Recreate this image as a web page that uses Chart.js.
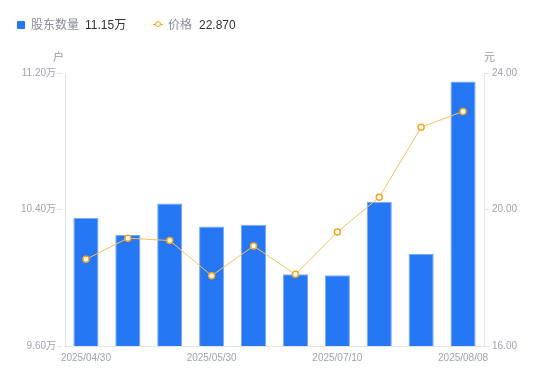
<!DOCTYPE html>
<html>
<head>
<meta charset="utf-8">
<script src="https://cdn.jsdelivr.net/npm/chart.js@4"></script>
<style>
  body { margin: 0; background: #fff; font-family: "Liberation Sans", "Noto Sans CJK SC", sans-serif; }
  #wrap { position: relative; width: 550px; height: 381px; }
  #legend { position: absolute; left: 0; top: 0; width: 550px; height: 50px; font-size: 12px; }
  #legend span { position: absolute; top: 17px; line-height: 16px; white-space: nowrap; }
  .name { color: #8a8c99; }
  .val { color: #333; }
  .unit { position: absolute; font-size: 11px; color: #9a9aa6; line-height: 12px; }
</style>
</head>
<body>
<div id="wrap">
  <canvas id="chart" width="550" height="381"></canvas>
  <div id="legend"></div>
  <div class="unit" style="left:53px; top:51px;">户</div>
  <div class="unit" style="left:484px; top:51px;">元</div>
</div>
<script>
// data
const dates = ['2025/04/30', '2025/05/09', '2025/05/20', '2025/05/30', '2025/06/10',
  '2025/06/20', '2025/07/10', '2025/07/18', '2025/07/31', '2025/08/08'];
const holders = [10.35, 10.25, 10.435, 10.30, 10.31, 10.02, 10.015, 10.445, 10.14, 11.15]; // 万户
const prices = [18.54, 19.16, 19.09, 18.06, 18.93, 18.10, 19.34, 20.36, 22.41, 22.87]; // 元
const holderTicks = [9.6, 10.4, 11.2];
const priceTicks = [16, 20, 24];
const labelEvery = 3;

const barColor = '#2677f3';
const lineColor = '#f5a623';
const tickColor = '#a0a3b3';
const axisColor = '#e4e5ea';

// legend shows the latest values
const legend = document.getElementById('legend');
legend.innerHTML = `
  <div style="position:absolute;left:17px;top:21px;width:8px;height:8px;background:${barColor};border-radius:1px;"></div>
  <span class="name" style="left:31px;">股东数量</span>
  <span class="val" style="left:85px;">${holders[holders.length - 1].toFixed(2)}万</span>
  <div style="position:absolute;left:153px;top:24px;width:10px;height:1px;background:${lineColor};"></div>
  <div style="position:absolute;left:155px;top:21px;width:4px;height:4px;border:1.5px solid ${lineColor};border-radius:50%;background:#fff;"></div>
  <span class="name" style="left:168px;">价格</span>
  <span class="val" style="left:199px;">${prices[prices.length - 1].toFixed(3)}</span>
`;

const ctx = document.getElementById('chart').getContext('2d');
Chart.defaults.font.family = '"Liberation Sans", "Noto Sans CJK SC", sans-serif';

new Chart(ctx, {
  type: 'bar',
  data: {
    labels: dates,
    datasets: [
      {
        type: 'line',
        label: '价格',
        data: prices,
        yAxisID: 'y1',
        order: 0,
        borderColor: '#f7bf5e',
        borderWidth: 1,
        pointRadius: 3,
        pointBorderWidth: 1.5,
        pointBorderColor: lineColor,
        pointBackgroundColor: '#fff',
        tension: 0
      },
      {
        label: '股东数量',
        data: holders,
        yAxisID: 'y',
        order: 1,
        backgroundColor: barColor,
        borderColor: '#79a9f7',
        borderWidth: 1,
        categoryPercentage: 1,
        barPercentage: 0.6
      }
    ]
  },
  options: {
    responsive: false,
    animation: false,
    devicePixelRatio: 1,
    layout: { padding: { top: 73, left: 0, right: 0, bottom: 0 } },
    plugins: { legend: { display: false }, tooltip: { enabled: false } },
    scales: {
      x: {
        grid: { display: false, drawTicks: false },
        border: { color: axisColor },
        ticks: {
          autoSkip: false,
          maxRotation: 0,
          padding: 6,
          color: tickColor,
          font: { size: 10 },
          callback: function (value, index) {
            return index % labelEvery === 0 ? dates[index] : '';
          }
        },
        afterFit: function (scale) { scale.height = 35; }
      },
      y: {
        position: 'left',
        min: holderTicks[0],
        max: holderTicks[holderTicks.length - 1],
        afterBuildTicks: function (scale) {
          scale.ticks = holderTicks.map(v => ({ value: v }));
        },
        grid: {
          drawOnChartArea: false,
          tickLength: 8,
          tickBorderDash: [5, 10],
          color: axisColor
        },
        border: { color: axisColor },
        ticks: {
          padding: 1,
          color: tickColor,
          font: { size: 10 },
          callback: v => v.toFixed(2) + '万'
        },
        afterFit: function (scale) { scale.width = 65; }
      },
      y1: {
        position: 'right',
        min: priceTicks[0],
        max: priceTicks[priceTicks.length - 1],
        afterBuildTicks: function (scale) {
          scale.ticks = priceTicks.map(v => ({ value: v }));
        },
        grid: { drawOnChartArea: false, tickLength: 5, color: axisColor },
        border: { color: axisColor },
        ticks: {
          padding: 3,
          color: tickColor,
          font: { size: 10 },
          callback: v => v.toFixed(2)
        },
        afterFit: function (scale) { scale.width = 66; }
      }
    }
  }
});
</script>
</body>
</html>
